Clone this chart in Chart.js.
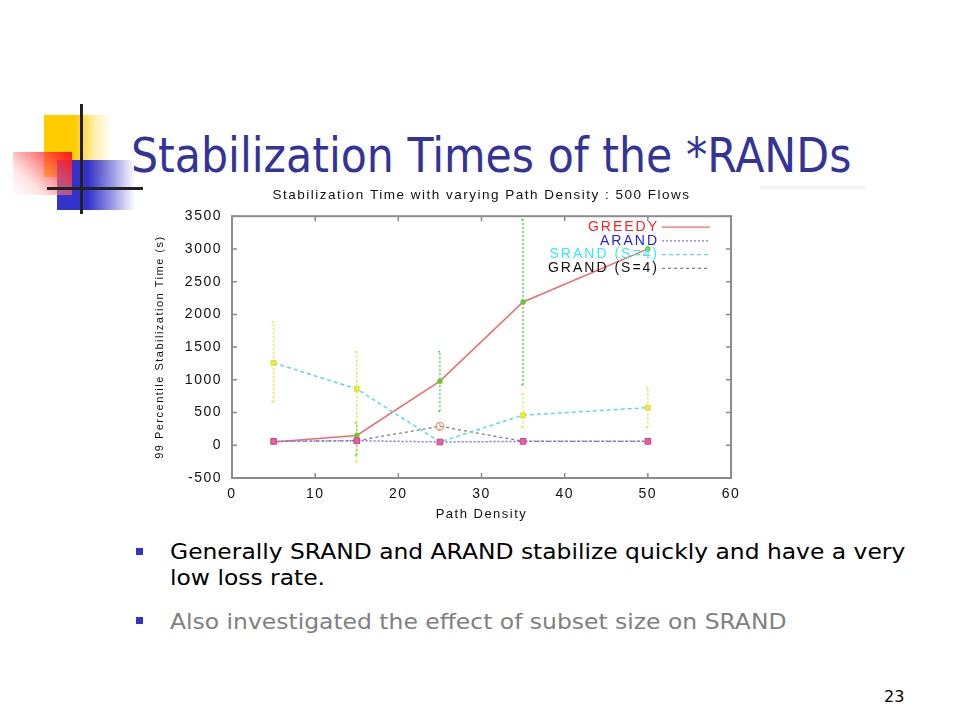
<!DOCTYPE html>
<html>
<head>
<meta charset="utf-8">
<script src="https://cdn.jsdelivr.net/npm/chart.js@4.4.0/dist/chart.umd.min.js"></script>
<style>
  body { margin: 0; width: 960px; height: 720px; background: #fff; position: relative; overflow: hidden; font-family: "DejaVu Sans", sans-serif; }
  .abs { position: absolute; }
  .fit { white-space: nowrap; transform-origin: 0 0; }
  .sq { position: absolute; width: 7px; height: 7px; background: #3333cc; }
</style>
</head>
<body>

<!-- slide logo -->
<div class="abs" style="left:44px;top:115px;width:68px;height:62px;background:linear-gradient(to right,#ffcc00 0%,#ffcc00 45%,rgba(255,230,120,0.6) 75%,rgba(255,255,255,0) 100%)"></div>
<div class="abs" style="left:57px;top:160px;width:78px;height:50px;background:linear-gradient(to right,#3333cc 0%,#3333cc 40%,rgba(80,80,210,0.6) 70%,rgba(255,255,255,0) 100%)"></div>
<div class="abs" style="left:13px;top:152px;width:59px;height:43px;background:linear-gradient(225deg,#ff1010 0%,rgba(255,80,80,0.75) 35%,rgba(255,190,190,0.45) 70%,rgba(255,255,255,0.15) 100%)"></div>
<div class="abs" style="left:80px;top:104px;width:3px;height:110px;background:#222"></div>
<div class="abs" style="left:47px;top:187px;width:96px;height:3px;background:#222"></div>
<div class="abs" style="left:760px;top:186px;width:105px;height:3px;background:#f2f2f2"></div>

<div id="title" class="abs fit" data-w="720" style="left:131px;top:131px;font-size:48px;line-height:48px;color:#333399">Stabilization Times of the *RANDs</div>

<div class="abs" style="left:140px;top:183px;width:610px;height:340px"><canvas id="myChart"></canvas></div>

<div class="sq" style="left:136px;top:548px"></div>
<div id="b1" class="abs fit" data-w="735" style="left:170px;top:539px;font-size:22px;line-height:26px;color:#000">Generally SRAND and ARAND stabilize quickly and have a very<br>low loss rate.</div>
<div class="sq" style="left:136px;top:617px"></div>
<div id="b2" class="abs fit" data-w="617" style="left:170px;top:609px;font-size:22px;line-height:26px;color:#808080">Also investigated the effect of subset size on SRAND</div>

<div class="abs" style="left:884px;top:689px;font-size:16px;line-height:16px;color:#000">23</div>

<script>
// values
const densities = [5, 15, 25, 35, 50];
const greedy = [50, 150, 980, 2190, 3000];
const arand = [60, 70, 50, 60, 60];
const srand = [1260, 860, 50, 460, 575];
const grand = [60, 70, 290, 60, 60];

// error bars (null = none visible)
const greedyLow = [null, -150, 520, 920, null];
const greedyHigh = [null, 345, 1430, 3450, null];
const srandLow = [660, -250, null, 270, 270];
const srandHigh = [1880, 1430, null, 790, 880];
const grandLow = [null, null, 230, null, null];
const grandHigh = [null, null, 340, null, null];

const seriesNames = ['GREEDY', 'ARAND', 'SRAND (S=4)', 'GRAND (S=4)'];
const legendTextColors = ['#ff2020', '#2323e6', '#38ecec', '#111111'];

// squeeze the html text to the slide widths
document.querySelectorAll('.fit').forEach(el => {
  const w = el.scrollWidth;
  el.style.transform = 'scaleX(' + (el.dataset.w / w) + ')';
});

const pts = vals => densities.map((x, i) => ({x: x, y: vals[i]}));
const FONT = '"Liberation Sans", Arial, sans-serif';

const errorBars = [
  {low: greedyLow, high: greedyHigh, color: '#55dd55'},
  {low: srandLow, high: srandHigh, color: '#e6e650'},
  {low: grandLow, high: grandHigh, color: '#f0a070'}
];

const spacing = {
  id: 'spacing',
  beforeLayout(chart) { chart.ctx.letterSpacing = '1.5px'; },
  beforeDraw(chart) { chart.ctx.letterSpacing = '1.5px'; }
};

const errPlugin = {
  id: 'errs',
  beforeDatasetsDraw(chart) {
    const {ctx, chartArea, scales: {x, y}} = chart;
    ctx.save();
    ctx.beginPath();
    ctx.rect(chartArea.left, chartArea.top, chartArea.right - chartArea.left, chartArea.bottom - chartArea.top);
    ctx.clip();
    ctx.lineWidth = 1.5;
    ctx.setLineDash([2, 2]);
    errorBars.forEach(e => {
      ctx.strokeStyle = e.color;
      densities.forEach((d, i) => {
        if (e.low[i] === null) return;
        const px = x.getPixelForValue(d);
        const y1 = y.getPixelForValue(e.low[i]);
        const y2 = y.getPixelForValue(e.high[i]);
        ctx.beginPath();
        ctx.moveTo(px, y1); ctx.lineTo(px, y2);
        ctx.moveTo(px - 2, y1); ctx.lineTo(px + 2, y1);
        ctx.moveTo(px - 2, y2); ctx.lineTo(px + 2, y2);
        ctx.stroke();
      });
    });
    ctx.restore();
  }
};

const framePlugin = {
  id: 'frame',
  afterDraw(chart) {
    const {ctx, chartArea: a, scales: {x, y}} = chart;
    ctx.save();
    ctx.strokeStyle = '#8c8c8c';
    ctx.lineWidth = 2;
    ctx.setLineDash([]);
    ctx.strokeRect(a.left, a.top, a.right - a.left, a.bottom - a.top);
    ctx.lineWidth = 1.5;
    ctx.beginPath();
    x.ticks.forEach(t => {
      const px = x.getPixelForValue(t.value);
      ctx.moveTo(px, a.bottom); ctx.lineTo(px, a.bottom - 5);
      ctx.moveTo(px, a.top); ctx.lineTo(px, a.top + 5);
    });
    y.ticks.forEach(t => {
      const py = y.getPixelForValue(t.value);
      ctx.moveTo(a.left, py); ctx.lineTo(a.left + 5, py);
      ctx.moveTo(a.right, py); ctx.lineTo(a.right - 5, py);
    });
    ctx.stroke();

    // key, gnuplot style: right-aligned text then a line sample
    ctx.font = '14px ' + FONT;
    ctx.letterSpacing = '2px';
    ctx.textAlign = 'right';
    ctx.textBaseline = 'middle';
    const textRight = a.right - 74;
    const sampleL = a.right - 69, sampleR = a.right - 21;
    seriesNames.forEach((name, i) => {
      const ds = chart.data.datasets[i];
      const ty = a.top + 11 + i * 13.7;
      ctx.fillStyle = legendTextColors[i];
      ctx.fillText(name, textRight + 2, ty);
      ctx.strokeStyle = ds.borderColor;
      ctx.lineWidth = 1.3;
      ctx.setLineDash(ds.borderDash || []);
      ctx.beginPath();
      ctx.moveTo(sampleL, ty); ctx.lineTo(sampleR, ty);
      ctx.stroke();
    });
    ctx.restore();
  }
};

const ctx = document.getElementById('myChart').getContext('2d');
const myChart = new Chart(ctx, {
  type: 'line',
  data: {
    datasets: [
      {
        label: seriesNames[0],
        data: pts(greedy),
        borderColor: '#f26a6a',
        borderWidth: 1.5,
        pointRadius: 2,
        pointBackgroundColor: '#66cc33',
        pointBorderColor: '#66cc33',
        order: 2
      },
      {
        label: seriesNames[1],
        data: pts(arand),
        borderColor: '#7a7af0',
        borderWidth: 1.5,
        borderDash: [2, 2],
        pointStyle: 'rect',
        pointRadius: 4,
        pointBackgroundColor: '#ea5fa0',
        pointBorderColor: '#d2408a',
        pointBorderWidth: 1,
        order: 0
      },
      {
        label: seriesNames[2],
        data: pts(srand),
        borderColor: '#55e0e0',
        borderWidth: 1.5,
        borderDash: [4, 3],
        pointStyle: 'rect',
        pointRadius: 3,
        pointBackgroundColor: '#f2f23c',
        pointBorderColor: '#e2e22c',
        order: 1
      },
      {
        label: seriesNames[3],
        data: pts(grand),
        borderColor: '#808080',
        borderWidth: 1.3,
        borderDash: [3, 3],
        pointRadius: [0, 0, 4, 0, 0],
        pointBackgroundColor: 'rgba(255,255,255,0)',
        pointBorderColor: '#f0a070',
        order: 3
      }
    ]
  },
  options: {
    responsive: true,
    maintainAspectRatio: false,
    animation: false,
    layout: { padding: { left: 0, right: 19, top: 0, bottom: 0 } },
    plugins: {
      legend: { display: false },
      tooltip: { enabled: false },
      title: {
        display: true,
        fullSize: false,
        text: 'Stabilization Time with varying Path Density : 500 Flows',
        color: '#111',
        font: { family: FONT, size: 13.5, weight: 'normal' },
        padding: { top: 4, bottom: 13 }
      }
    },
    scales: {
      x: {
        type: 'linear',
        min: 0,
        max: 60,
        ticks: { stepSize: 10, padding: 8, color: '#111', font: { family: FONT, size: 14 } },
        grid: { display: false, drawTicks: false },
        border: { display: false },
        title: { display: true, text: 'Path Density', color: '#111', padding: { top: 4, bottom: 1 },
                 font: { family: FONT, size: 13 } },
        afterFit: s => { s.height = 45; }
      },
      y: {
        min: -500,
        max: 3500,
        ticks: { stepSize: 500, padding: 10, color: '#111', font: { family: FONT, size: 14 },
                 callback: v => String(v) },
        grid: { display: false, drawTicks: false },
        border: { display: false },
        title: { display: true, text: '99 Percentile Stabilization Time (s)', color: '#111', padding: { top: 13.5, bottom: 0 },
                 font: { family: FONT, size: 11 } },
        afterFit: s => { s.width = 92; }
      }
    }
  },
  plugins: [spacing, errPlugin, framePlugin]
});
</script>
</body>
</html>
